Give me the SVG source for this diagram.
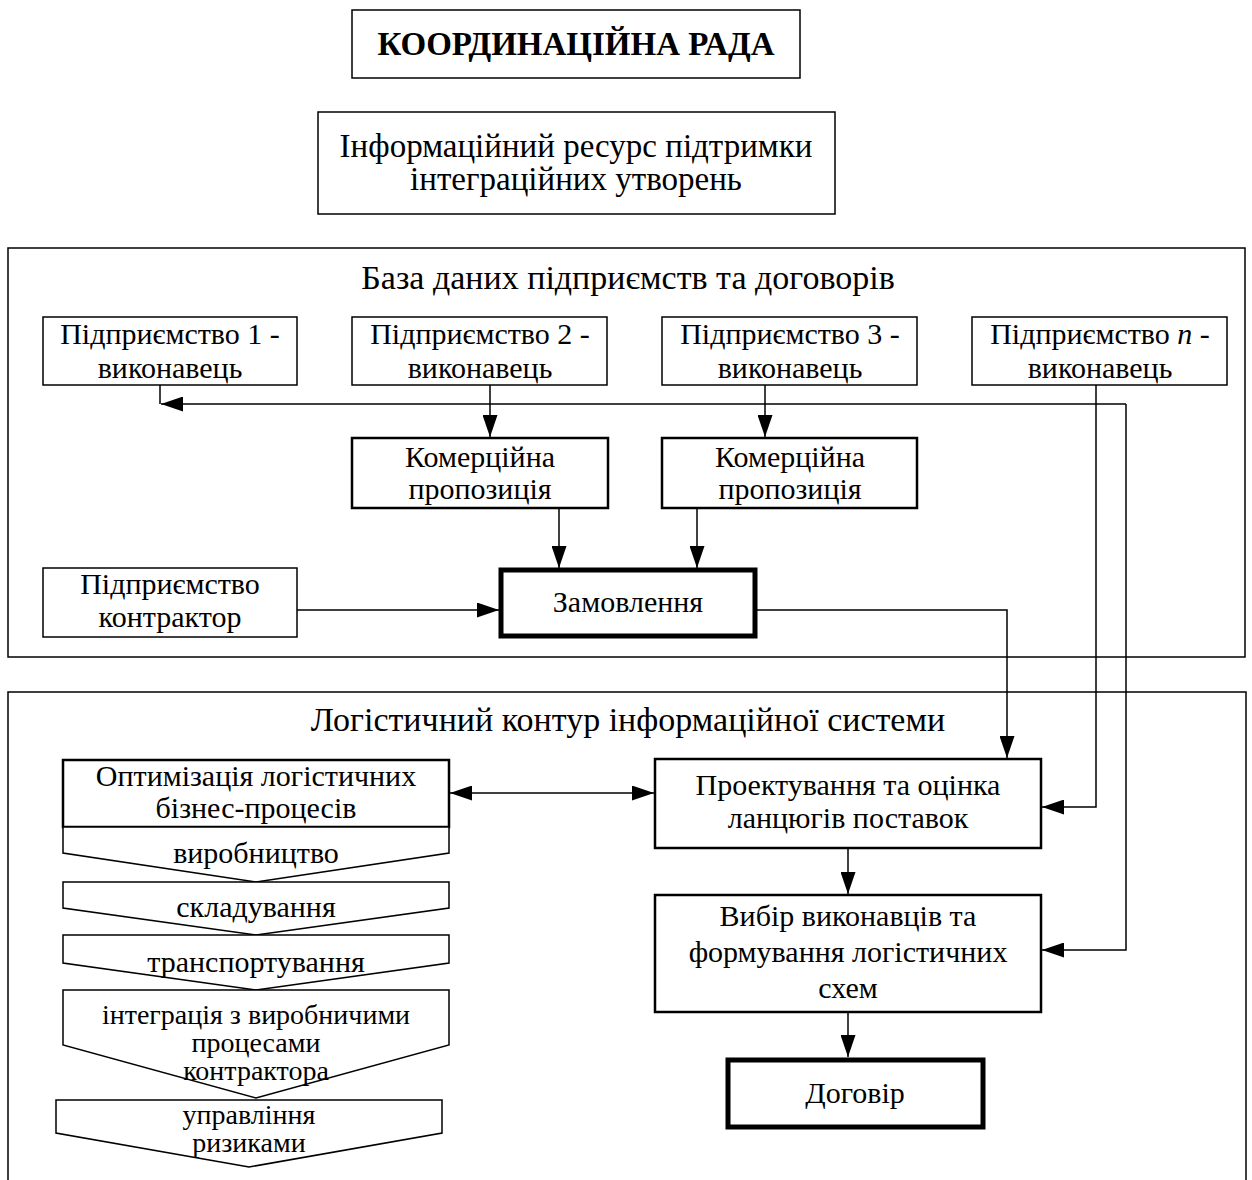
<svg xmlns="http://www.w3.org/2000/svg" width="1252" height="1180" viewBox="0 0 1252 1180">
  <style>
    text { font-family: "Liberation Serif", "Times New Roman", serif; fill: #000; text-anchor: middle; }
    .t28 { font-size: 28px; }
    .t30 { font-size: 30px; }
    .t34 { font-size: 34px; }
    .head { font-size: 33px; font-weight: bold; }
    .box { fill: #fff; stroke: #000; stroke-width: 1.5; }
    .box2 { fill: #fff; stroke: #000; stroke-width: 2.5; }
    .box4 { fill: #fff; stroke: #000; stroke-width: 5; }
    .frame { fill: none; stroke: #000; stroke-width: 1.5; }
    .link { fill: none; stroke: #000; stroke-width: 1.5; }
  </style>
  <defs>
    <marker id="arrow" viewBox="0 0 22 15" refX="22" refY="7.5" markerWidth="22" markerHeight="15" markerUnits="userSpaceOnUse" orient="auto-start-reverse">
      <path d="M0,0 L22,7.5 L0,15 z" fill="#000"/>
    </marker>
  </defs>

  <rect width="1252" height="1180" fill="#fff"/>

  <!-- header blocks -->
  <g id="council">
    <rect class="box" x="352" y="10" width="448" height="68"/>
    <text class="head" x="576" y="55">КООРДИНАЦІЙНА РАДА</text>
  </g>
  <g id="info-resource">
    <rect class="box" x="318" y="112" width="517" height="102"/>
    <text x="576" y="157" font-size="33">Інформаційний ресурс підтримки</text>
    <text x="576" y="190" font-size="33">інтеграційних утворень</text>
  </g>

  <!-- database container -->
  <g id="database">
    <rect class="frame" x="8" y="248" width="1237" height="409"/>
    <text class="t34" x="628" y="289">База даних підприємств та договорів</text>
  </g>
  <g id="enterprise-1">
    <rect class="box" x="43" y="317" width="254" height="68"/>
    <text class="t30" x="170" y="344">Підприємство 1 -</text>
    <text class="t30" x="170" y="378">виконавець</text>
  </g>
  <g id="enterprise-2">
    <rect class="box" x="352" y="317" width="255" height="68"/>
    <text class="t30" x="480" y="344">Підприємство 2 -</text>
    <text class="t30" x="480" y="378">виконавець</text>
  </g>
  <g id="enterprise-3">
    <rect class="box" x="662" y="317" width="255" height="68"/>
    <text class="t30" x="790" y="344">Підприємство 3 -</text>
    <text class="t30" x="790" y="378">виконавець</text>
  </g>
  <g id="enterprise-n">
    <rect class="box" x="972" y="317" width="255" height="68"/>
    <text class="t30" x="1100" y="344">Підприємство <tspan font-style="italic">n</tspan> -</text>
    <text class="t30" x="1100" y="378">виконавець</text>
  </g>
  <g id="offer-1">
    <rect class="box2" x="352" y="438" width="256" height="70"/>
    <text class="t30" x="480" y="467">Комерційна</text>
    <text class="t30" x="480" y="499">пропозиція</text>
  </g>
  <g id="offer-2">
    <rect class="box2" x="662" y="438" width="255" height="70"/>
    <text class="t30" x="790" y="467">Комерційна</text>
    <text class="t30" x="790" y="499">пропозиція</text>
  </g>
  <g id="contractor">
    <rect class="box" x="43" y="568" width="254" height="69"/>
    <text class="t30" x="170" y="594">Підприємство</text>
    <text class="t30" x="170" y="627">контрактор</text>
  </g>
  <g id="order">
    <rect class="box4" x="501" y="570" width="254" height="66"/>
    <text class="t30" x="628" y="612">Замовлення</text>
  </g>

  <!-- logistics container (open at the bottom) -->
  <g id="logistics">
    <path class="frame" d="M8,1190 V692 H1246 V1190"/>
    <text class="t34" x="628" y="731">Логістичний контур інформаційної системи</text>
  </g>
  <g id="optimization">
    <rect class="box2" x="63" y="760" width="386" height="67"/>
    <text class="t30" x="256" y="786">Оптимізація логістичних</text>
    <text class="t30" x="256" y="818">бізнес-процесів</text>
  </g>
  <g id="stage-production">
    <path class="box" d="M63,827 H449 V853 L256,882 L63,853 Z"/>
    <text class="t30" x="256" y="863">виробництво</text>
  </g>
  <g id="stage-storage">
    <path class="box" d="M63,882 H449 V908 L256,935 L63,908 Z"/>
    <text class="t30" x="256" y="917">складування</text>
  </g>
  <g id="stage-transport">
    <path class="box" d="M63,935 H449 V963 L256,990 L63,963 Z"/>
    <text class="t30" x="256" y="972">транспортування</text>
  </g>
  <g id="stage-integration">
    <path class="box" d="M63,990 H449 V1045 L256,1098 L63,1045 Z"/>
    <text class="t28" x="256" y="1024">інтеграція з виробничими</text>
    <text class="t28" x="256" y="1052">процесами</text>
    <text class="t28" x="256" y="1080">контрактора</text>
  </g>
  <g id="stage-risk">
    <path class="box" d="M56,1100 H442 V1133 L249,1167 L56,1133 Z"/>
    <text class="t28" x="249" y="1124">управління</text>
    <text class="t28" x="249" y="1152">ризиками</text>
  </g>
  <g id="chain-design">
    <rect class="box2" x="655" y="759" width="386" height="89"/>
    <text class="t30" x="848" y="795">Проектування та оцінка</text>
    <text class="t30" x="848" y="828">ланцюгів поставок</text>
  </g>
  <g id="selection">
    <rect class="box2" x="655" y="895" width="386" height="117"/>
    <text class="t30" x="848" y="926">Вибір виконавців та</text>
    <text class="t30" x="848" y="962">формування логістичних</text>
    <text class="t30" x="848" y="998">схем</text>
  </g>
  <g id="contract">
    <rect class="box4" x="728" y="1060" width="255" height="67"/>
    <text class="t30" x="855" y="1103">Договір</text>
  </g>

  <!-- connectors -->
  <g id="connectors">
    <path class="link" d="M490,385 V437" marker-end="url(#arrow)"/>
    <path class="link" d="M765,385 V437" marker-end="url(#arrow)"/>
    <path class="link" d="M559,509 V568" marker-end="url(#arrow)"/>
    <path class="link" d="M697,509 V568" marker-end="url(#arrow)"/>
    <path class="link" d="M297,610 H499" marker-end="url(#arrow)"/>
    <path class="link" d="M757,610 H1007 V758" marker-end="url(#arrow)"/>
    <path class="link" d="M1096,385 V807 H1042" marker-end="url(#arrow)"/>
    <path class="link" d="M160,385 V404"/>
    <path class="link" d="M1126,404 H161" marker-end="url(#arrow)"/>
    <path class="link" d="M1126,404 V950 H1042" marker-end="url(#arrow)"/>
    <path class="link" d="M450,793 H654" marker-start="url(#arrow)" marker-end="url(#arrow)"/>
    <path class="link" d="M848,849 V894" marker-end="url(#arrow)"/>
    <path class="link" d="M848,1013 V1057" marker-end="url(#arrow)"/>
  </g>
</svg>
